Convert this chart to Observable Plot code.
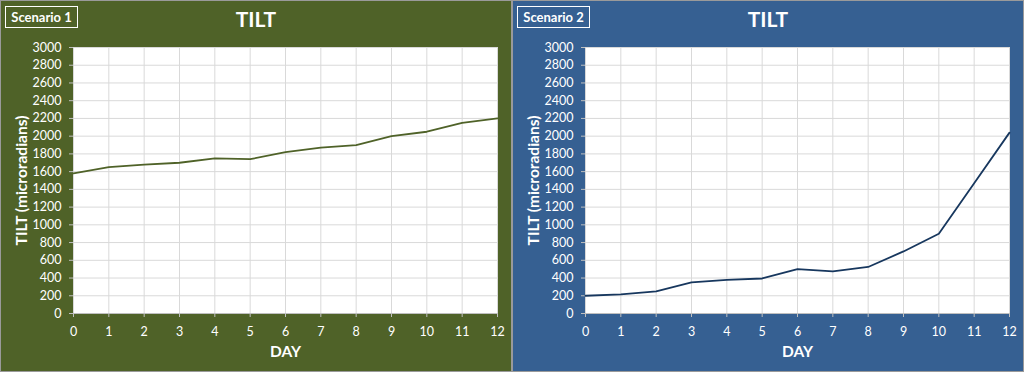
<!DOCTYPE html>
<html>
<head>
<meta charset="utf-8">
<script src="https://cdn.jsdelivr.net/npm/d3@7"></script>
<script src="https://cdn.jsdelivr.net/npm/@observablehq/plot@0.6"></script>
<style>
  html, body { margin: 0; padding: 0; background: #ffffff; }
  #wrap { display: flex; width: 1024px; height: 372px; }
  .panel { position: relative; width: 512px; height: 372px; box-shadow: inset 0 0 0 1px #9a9a9a; overflow: hidden; }
  .panel svg { position: absolute; left: 0; top: 0; }
  .title { position: absolute; left: 0; width: 512px; top: 6px; text-align: center; color: #fff;
           font: bold 21px Lato, "Open Sans", sans-serif; }
  .badge { position: absolute; left: 5px; top: 6px; width: 71px; height: 20px; border: 1.5px solid #fff;
           color: #fff; font: bold 13px Lato, "Open Sans", sans-serif; line-height: 20px; text-align: center; }
</style>
</head>
<body>
<div id="wrap"></div>
<script>
const days = [0, 1, 2, 3, 4, 5, 6, 7, 8, 9, 10, 11, 12];
const scenario1Tilt = [1580, 1650, 1680, 1700, 1750, 1740, 1820, 1870, 1900, 2000, 2050, 2150, 2200];
const scenario2Tilt = [200, 215, 250, 350, 380, 395, 500, 475, 525, 700, 900, 1470, 2040];
const yTicks = d3.range(0, 3001, 200);
const panels = [
  {name: "Scenario 1", title: "TILT", values: scenario1Tilt, bg: "#4f6228", line: "#4f6228"},
  {name: "Scenario 2", title: "TILT", values: scenario2Tilt, bg: "#366092", line: "#17375e"}
];

const wrap = document.getElementById("wrap");
for (const p of panels) {
  const div = document.createElement("div");
  div.className = "panel";
  div.style.background = p.bg;
  const data = days.map((d, i) => ({day: d, tilt: p.values[i]}));
  const chart = Plot.plot({
    width: 512,
    height: 372,
    marginLeft: 73,
    marginRight: 15,
    marginTop: 47,
    marginBottom: 59,
    style: {background: "transparent", color: "#ffffff", fontFamily: "Lato, 'Open Sans', sans-serif", fontSize: "12px", overflow: "visible"},
    x: {domain: [0, 12], ticks: days, label: null},
    y: {domain: [0, 3000], ticks: yTicks, label: null},
    marks: [
      Plot.frame({fill: "#ffffff", stroke: null}),
      Plot.gridX(days, {stroke: "#d9d9d9", strokeOpacity: 1}),
      Plot.gridY(yTicks, {stroke: "#d9d9d9", strokeOpacity: 1}),
      Plot.axisX({ticks: days, tickFormat: d => String(d), tickSize: 4, tickPadding: 10, stroke: "#bfbfbf", fill: "#ffffff", fontSize: 12.5, label: null}),
      Plot.axisY({ticks: yTicks, tickFormat: d => String(d), tickSize: 4, tickPadding: 8, stroke: "#bfbfbf", fill: "#ffffff", fontSize: 12.5, label: null}),
      Plot.ruleY([0], {stroke: "#bfbfbf"}),
      Plot.line(data, {x: "day", y: "tilt", stroke: p.line, strokeWidth: 1.8}),
      Plot.text(["TILT (microradians)"], {frameAnchor: "left", textAnchor: "middle", lineAnchor: "middle", rotate: -90, dx: -51, fill: "#ffffff", fontWeight: "bold", fontSize: 15.5}),
      Plot.text(["DAY"], {frameAnchor: "bottom", lineAnchor: "middle", dy: 39, fill: "#ffffff", fontWeight: "bold", fontSize: 15.5})
    ]
  });
  div.appendChild(chart);
  const t = document.createElement("div");
  t.className = "title";
  t.textContent = p.title;
  div.appendChild(t);
  const b = document.createElement("div");
  b.className = "badge";
  b.textContent = p.name;
  div.appendChild(b);
  wrap.appendChild(div);
}
</script>
</body>
</html>
